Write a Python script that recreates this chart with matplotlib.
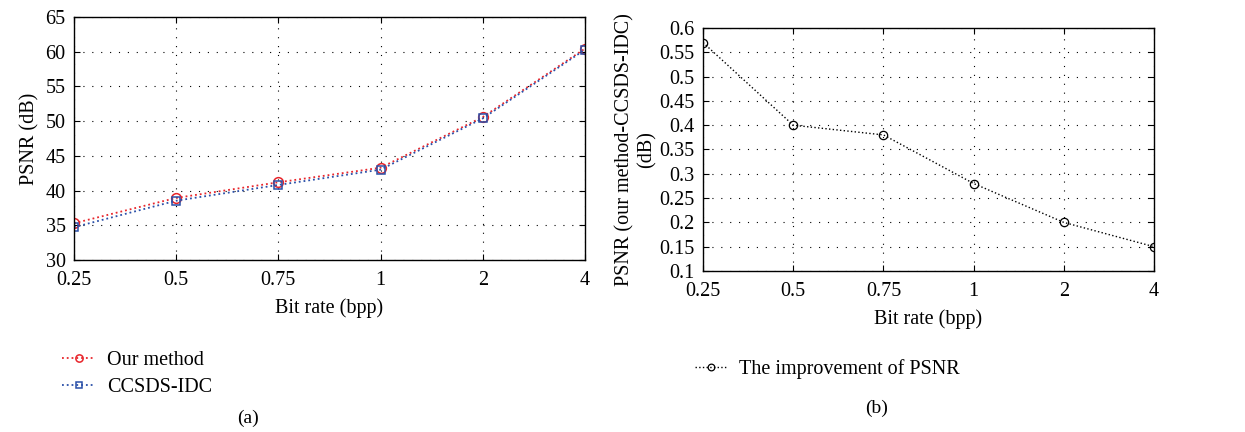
import matplotlib.pyplot as plt

plt.rcParams['font.family'] = ['Liberation Serif', 'DejaVu Serif']
plt.rcParams['font.size'] = 14.5

bit_rates = ["0.25", "0.5", "0.75", "1", "2", "4"]
psnr_ours = [35.3, 38.95, 41.2, 43.3, 50.6, 60.45]
psnr_ccsds = [34.73, 38.55, 40.82, 43.02, 50.4, 60.3]
psnr_gain = [0.57, 0.40, 0.38, 0.28, 0.20, 0.15]

x = list(range(len(bit_rates)))

fig = plt.figure(figsize=(12.45, 4.32), dpi=100)


def style_axes(ax):
    ax.set_xticks(x)
    ax.set_xticklabels(bit_rates)
    ax.set_xlim(x[0], x[-1])
    ax.grid(True, color="black", linestyle=(0, (1, 7)), linewidth=0.8)
    ax.tick_params(direction="in", top=True, right=True, length=4, width=0.8)
    ax.tick_params(axis="x", pad=8)
    ax.tick_params(axis="y", pad=6)
    for s in ax.spines.values():
        s.set_linewidth(1.0)


# (a) PSNR of both methods
ax1 = fig.add_axes([0.0594, 0.398, 0.4104, 0.5625])
ax1.plot(x, psnr_ours, color="#e8252b", linestyle=":", linewidth=1.3,
         marker="o", ms=7, mfc="none", mew=1.1, label="Our method")
ax1.plot(x, psnr_ccsds, color="#2a4fa8", linestyle=":", linewidth=1.3,
         marker="s", ms=6, mfc="none", mew=1.1, label="CCSDS-IDC")
style_axes(ax1)
ax1.set_ylim(30, 65)
ax1.set_yticks(range(30, 66, 5))
ax1.set_xlabel("Bit rate (bpp)", labelpad=6)
ax1.set_ylabel("PSNR (dB)", labelpad=4)
ax1.legend(loc="upper left", bbox_to_anchor=(-0.058, -0.30), frameon=False,
           handlelength=1.6, handletextpad=0.6, labelspacing=0.4,
           markerscale=0.75, fontsize=14.5)
fig.text(0.199, 0.032, "(a)", ha="center", va="center", fontsize=14)

# (b) PSNR improvement
ax2 = fig.add_axes([0.5647, 0.3727, 0.3622, 0.5625])
ax2.plot(x, psnr_gain, color="black", linestyle=":", linewidth=1.0,
         marker="o", ms=6, mfc="none", mew=0.9, label="The improvement of PSNR")
style_axes(ax2)
ax2.set_ylim(0.1, 0.6)
ax2.set_yticks([0.1, 0.15, 0.2, 0.25, 0.3, 0.35, 0.4, 0.45, 0.5, 0.55, 0.6])
ax2.set_yticklabels(["0.1", "0.15", "0.2", "0.25", "0.3", "0.35", "0.4",
                     "0.45", "0.5", "0.55", "0.6"])
ax2.set_xlabel("Bit rate (bpp)", labelpad=6)
ax2.set_ylabel("PSNR (our method-CCSDS-IDC)\n(dB)", linespacing=1.2, labelpad=2)
ax2.legend(loc="upper left", bbox_to_anchor=(-0.059, -0.29), frameon=False,
           handlelength=1.6, handletextpad=0.6, markerscale=0.8, fontsize=14.5)
fig.text(0.704, 0.055, "(b)", ha="center", va="center", fontsize=14)

fig.savefig("out.png", dpi=100)
